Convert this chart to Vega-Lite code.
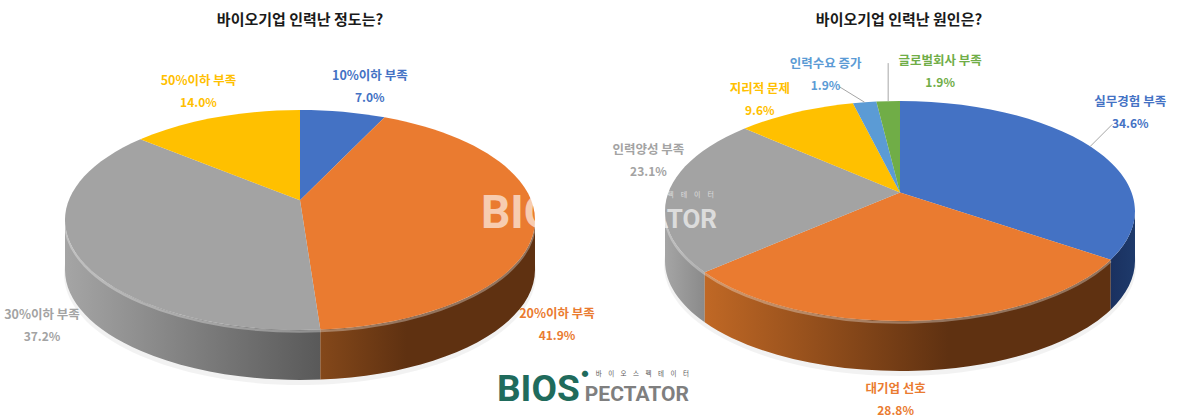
{
"$schema":"https://vega.github.io/schema/vega-lite/v6.json",
"width":1199,"height":420,"padding":0,"autosize":{"type":"none"},
"background":"white",
"config":{"axis":{"disable":true},"view":{"stroke":null},"font":"Noto Sans CJK KR","text":{"font":"Noto Sans CJK KR"}},
"datasets":{
"slices":[
{"chart":"left","order":1,"name":"10%이하 부족","value":7.0},
{"chart":"left","order":2,"name":"20%이하 부족","value":41.9},
{"chart":"left","order":3,"name":"30%이하 부족","value":37.2},
{"chart":"left","order":4,"name":"50%이하 부족","value":14.0},
{"chart":"right","order":1,"name":"실무경험 부족","value":34.6},
{"chart":"right","order":2,"name":"대기업 선호","value":28.8},
{"chart":"right","order":3,"name":"인력양성 부족","value":23.1},
{"chart":"right","order":4,"name":"지리적 문제","value":9.6},
{"chart":"right","order":5,"name":"인력수요 증가","value":1.9},
{"chart":"right","order":6,"name":"글로벌회사 부족","value":1.9}
],
"notes":[
{"role":"title1","label":"바이오기업 인력난 정도는?"},
{"role":"title2","label":"바이오기업 인력난 원인은?"},
{"role":"wmA","label":"BIOS"},
{"role":"wmB","label":"PECTATOR"},
{"role":"wmsub","label":"바\u2003이\u2003오\u2003스\u2003펙\u2003테\u2003이\u2003터"},
{"role":"logoA","label":"BIOS"},
{"role":"logoB","label":"PECTATOR"},
{"role":"logoSub","label":"바\u2003이\u2003오\u2003스\u2003펙\u2003테\u2003이\u2003터"},
{"role":"logoDot","label":"●"}
]},
"layer":[
{"data":{"name":"slices"},
"transform":[
{"window":[{"op":"sum","field":"value","as":"cum"}],"groupby":["chart"],"sort":[{"field":"order","order":"ascending"}]},
{"joinaggregate":[{"op":"sum","field":"value","as":"total"}],"groupby":["chart"]},
{"calculate":"datum.chart=='left'?300:900","as":"cx"},
{"calculate":"datum.chart=='left'?220:211","as":"cy"},
{"calculate":"datum.chart=='left'?0.18:0.169","as":"e"},
{"calculate":"235","as":"rx"},
{"calculate":"110","as":"ry"},
{"calculate":"50","as":"d"},
{"calculate":"2*PI*(datum.cum-datum.value)/datum.total","as":"a0"},
{"calculate":"2*PI*datum.cum/datum.total","as":"a1"},
{"calculate":"(datum.a0+datum.a1)/2","as":"am"},
{"calculate":"sin(datum.a0)*sqrt(1-datum.e*datum.e)/(1+datum.e*cos(datum.a0))","as":"X0"},
{"calculate":"(cos(datum.a0)+datum.e)/(1+datum.e*cos(datum.a0))","as":"Y0"},
{"calculate":"sin(datum.a1)*sqrt(1-datum.e*datum.e)/(1+datum.e*cos(datum.a1))","as":"X1"},
{"calculate":"(cos(datum.a1)+datum.e)/(1+datum.e*cos(datum.a1))","as":"Y1"},
{"calculate":"sin(datum.am)*sqrt(1-datum.e*datum.e)/(1+datum.e*cos(datum.am))","as":"Xm"},
{"calculate":"(cos(datum.am)+datum.e)/(1+datum.e*cos(datum.am))","as":"Ym"},
{"calculate":"datum.a0<0.0001?0:(atan2(datum.X0,datum.Y0)<0?atan2(datum.X0,datum.Y0)+2*PI:atan2(datum.X0,datum.Y0))","as":"t0"},
{"calculate":"datum.a1>2*PI-0.0001?2*PI:(atan2(datum.X1,datum.Y1)<0?atan2(datum.X1,datum.Y1)+2*PI:atan2(datum.X1,datum.Y1))","as":"t1"},
{"calculate":"max(datum.t0,PI/2)","as":"w0"},
{"calculate":"min(datum.t1,3*PI/2)","as":"w1"},
{"calculate":"'M0 '+round(-datum.ry*datum.e*100)/100+' L'+round(datum.rx*datum.X0*100)/100+' '+round(-datum.ry*datum.Y0*100)/100+' A'+datum.rx+' '+datum.ry+' 0 '+(datum.t1-datum.t0>PI?1:0)+' 1 '+round(datum.rx*datum.X1*100)/100+' '+round(-datum.ry*datum.Y1*100)/100+' Z'","as":"topPath"},
{"calculate":"round(datum.rx*sin(datum.w0)*100)/100","as":"wx0"},
{"calculate":"round(-datum.ry*cos(datum.w0)*100)/100","as":"wy0"},
{"calculate":"round(datum.rx*sin(datum.w1)*100)/100","as":"wx1"},
{"calculate":"round(-datum.ry*cos(datum.w1)*100)/100","as":"wy1"},
{"calculate":"'M'+datum.wx0+' '+datum.wy0+' A'+datum.rx+' '+datum.ry+' 0 0 1 '+datum.wx1+' '+datum.wy1+' L'+datum.wx1+' '+(datum.wy1+datum.d)+' A'+datum.rx+' '+datum.ry+' 0 0 0 '+datum.wx0+' '+(datum.wy0+datum.d)+' Z'","as":"wallPath"},
{"calculate":"'M'+datum.wx0+' '+(datum.wy0+1.5)+' A'+datum.rx+' '+datum.ry+' 0 0 1 '+datum.wx1+' '+(datum.wy1+1.5)","as":"rimPath"},
{"calculate":"datum.cx+datum.rx*datum.Xm","as":"ex"},
{"calculate":"datum.cy-datum.ry*datum.Ym","as":"ey"},
{"calculate":"{'10%이하 부족':[27,-37],'20%이하 부족':[22,93],'30%이하 부족':[-34,61],'50%이하 부족':[-17,-37],'실무경험 부족':[40,-45],'대기업 선호':[-21,67],'인력양성 부족':[-20,-43],'지리적 문제':[-36,-24],'인력수요 증가':[-39,-39],'글로벌회사 부족':[52,-41]}[datum.name]","as":"off"},
{"calculate":"datum.ex+datum.off[0]","as":"lx"},
{"calculate":"datum.ey+datum.off[1]+1","as":"ly"},
{"calculate":"datum.ly+22","as":"ly2"},
{"calculate":"format(datum.value,'.1f')+'%'","as":"pct"}
],
"encoding":{
"x":{"field":"cx","type":"quantitative","scale":{"domain":[0,1199],"range":[0,1199],"nice":false,"zero":false}},
"y":{"field":"cy","type":"quantitative","scale":{"domain":[0,420],"range":[0,420],"nice":false,"zero":false}}
},
"layer":[
{"transform":[{"filter":"datum.order==1"}],
 "mark":{"type":"point","filled":true,"opacity":0.05,"fill":"#000000","stroke":null,"size":4,"shape":"M-236 54 A236 111 0 1 1 236 54 A236 111 0 1 1 -236 54 Z"}},
{"transform":[{"filter":"datum.chart=='left'&&datum.order==3"}],
 "mark":{"type":"point","filled":true,"opacity":1,"size":4,"stroke":null,"fill":{"gradient":"linear","x1":0,"x2":1,"y1":0,"y2":0,"stops":[{"offset":0,"color":"#a5a5a5"},{"offset":1,"color":"#595959"}]}},
 "encoding":{"shape":{"field":"wallPath","type":"nominal","scale":null,"legend":null}}},
{"transform":[{"filter":"datum.chart=='left'&&datum.order==2"}],
 "mark":{"type":"point","filled":true,"opacity":1,"size":4,"stroke":null,"fill":{"gradient":"linear","x1":1,"x2":0,"y1":0,"y2":0,"stops":[{"offset":0,"color":"#5f3111"},{"offset":0.6,"color":"#5f3111"},{"offset":1,"color":"#84481a"}]}},
 "encoding":{"shape":{"field":"wallPath","type":"nominal","scale":null,"legend":null}}},
{"transform":[{"filter":"datum.chart=='right'&&datum.order==3"}],
 "mark":{"type":"point","filled":true,"opacity":1,"size":4,"stroke":null,"fill":{"gradient":"linear","x1":0,"x2":1,"y1":0,"y2":0,"stops":[{"offset":0,"color":"#a5a5a5"},{"offset":1,"color":"#8a8a8a"}]}},
 "encoding":{"shape":{"field":"wallPath","type":"nominal","scale":null,"legend":null}}},
{"transform":[{"filter":"datum.chart=='right'&&datum.order==2"}],
 "mark":{"type":"point","filled":true,"opacity":1,"size":4,"stroke":null,"fill":{"gradient":"linear","x1":1,"x2":0,"y1":0,"y2":0,"stops":[{"offset":0,"color":"#5f3111"},{"offset":0.4,"color":"#5f3111"},{"offset":1,"color":"#c06825"}]}},
 "encoding":{"shape":{"field":"wallPath","type":"nominal","scale":null,"legend":null}}},
{"transform":[{"filter":"datum.chart=='right'&&datum.order==1"}],
 "mark":{"type":"point","filled":true,"opacity":1,"size":4,"stroke":null,"fill":{"gradient":"linear","x1":0,"x2":1,"y1":0,"y2":0,"stops":[{"offset":0,"color":"#1a3160"},{"offset":1,"color":"#1e3a6b"}]}},
 "encoding":{"shape":{"field":"wallPath","type":"nominal","scale":null,"legend":null}}},
{"transform":[{"filter":"datum.w1>datum.w0&&datum.order!=1"}],
 "mark":{"type":"point","filled":false,"fill":null,"opacity":1,"size":4,"stroke":"#ffffff","strokeOpacity":0.32,"strokeWidth":2.5},
 "encoding":{"shape":{"field":"rimPath","type":"nominal","scale":null,"legend":null}}},
{"mark":{"type":"point","filled":true,"opacity":1,"size":4,"stroke":null},
 "encoding":{
  "shape":{"field":"topPath","type":"nominal","scale":null,"legend":null},
  "color":{"field":"name","type":"nominal","legend":null,"scale":{
   "domain":["10%이하 부족","20%이하 부족","30%이하 부족","50%이하 부족","실무경험 부족","대기업 선호","인력양성 부족","지리적 문제","인력수요 증가","글로벌회사 부족"],
   "range":["#4472C4","#EA7B30","#A3A3A3","#FFC000","#4472C4","#EA7B30","#A3A3A3","#FFC000","#5B9BD5","#70AD47"]}}}},
{"transform":[{"filter":"datum.name=='실무경험 부족'||datum.name=='인력수요 증가'||datum.name=='글로벌회사 부족'"},
  {"calculate":"{'실무경험 부족':[22,-22],'인력수요 증가':[-26,-16],'글로벌회사 부족':[0,-38]}[datum.name]","as":"lead"},
  {"calculate":"datum.ex+datum.lead[0]","as":"x2v"},
  {"calculate":"datum.ey+datum.lead[1]","as":"y2v"}],
 "mark":{"type":"rule","color":"#a6a6a6","strokeWidth":1},
 "encoding":{"x":{"field":"ex","type":"quantitative"},"y":{"field":"ey","type":"quantitative"},"x2":{"field":"x2v"},"y2":{"field":"y2v"}}},
{"mark":{"type":"text","fontSize":12.5,"fontWeight":"bold","align":"center","baseline":"middle"},
 "encoding":{"x":{"field":"lx","type":"quantitative"},"y":{"field":"ly","type":"quantitative"},"text":{"field":"name"},
  "color":{"field":"name","type":"nominal","legend":null}}},
{"mark":{"type":"text","fontSize":12,"fontWeight":"bold","align":"center","baseline":"middle"},
 "encoding":{"x":{"field":"lx","type":"quantitative"},"y":{"field":"ly2","type":"quantitative"},"text":{"field":"pct"},
  "color":{"field":"name","type":"nominal","legend":null}}}
]},
{"data":{"name":"notes"},
"transform":[
 {"calculate":"{title1:[300,20],title2:[899,20],wmA:[481,228],wmB:[717,228],wmsub:[714,195],logoA:[497,401],logoB:[689,401],logoSub:[689,374],logoDot:[585,374]}[datum.role]","as":"pos"},
 {"calculate":"datum.pos[0]","as":"px"},
 {"calculate":"datum.pos[1]","as":"py"}
],
"encoding":{
"x":{"field":"px","type":"quantitative","scale":{"domain":[0,1199],"range":[0,1199],"nice":false,"zero":false}},
"y":{"field":"py","type":"quantitative","scale":{"domain":[0,420],"range":[0,420],"nice":false,"zero":false}},
"text":{"field":"label"}
},
"layer":[
{"transform":[{"filter":"datum.role=='wmA'"}],
 "mark":{"type":"text","font":"Roboto","fontWeight":"bold","fontSize":46,"align":"left","baseline":"alphabetic","color":"#ffffff","opacity":0.62}},
{"transform":[{"filter":"datum.role=='wmB'"}],
 "mark":{"type":"text","font":"Roboto","fontWeight":"bold","fontSize":26,"align":"right","baseline":"alphabetic","color":"#ffffff","opacity":0.62}},
{"transform":[{"filter":"datum.role=='wmsub'"}],
 "mark":{"type":"text","fontSize":7,"align":"right","baseline":"middle","color":"#ffffff","opacity":0.62}},
{"transform":[{"filter":"datum.role=='title1'||datum.role=='title2'"}],
 "mark":{"type":"text","fontSize":15,"fontWeight":"bold","align":"center","baseline":"middle","color":"#1a1a1a"}},
{"transform":[{"filter":"datum.role=='logoA'"}],
 "mark":{"type":"text","font":"Roboto","fontWeight":"bold","fontSize":37,"align":"left","baseline":"alphabetic","color":"#1f6b5c"}},
{"transform":[{"filter":"datum.role=='logoB'"}],
 "mark":{"type":"text","font":"Roboto","fontWeight":"bold","fontSize":21,"align":"right","baseline":"alphabetic","color":"#7f7f7f"}},
{"transform":[{"filter":"datum.role=='logoSub'"}],
 "mark":{"type":"text","fontSize":6.5,"align":"right","baseline":"middle","color":"#555555"}},
{"transform":[{"filter":"datum.role=='logoDot'"}],
 "mark":{"type":"text","fontSize":7,"align":"center","baseline":"middle","color":"#1f6b5c"}}
]}
]
}
